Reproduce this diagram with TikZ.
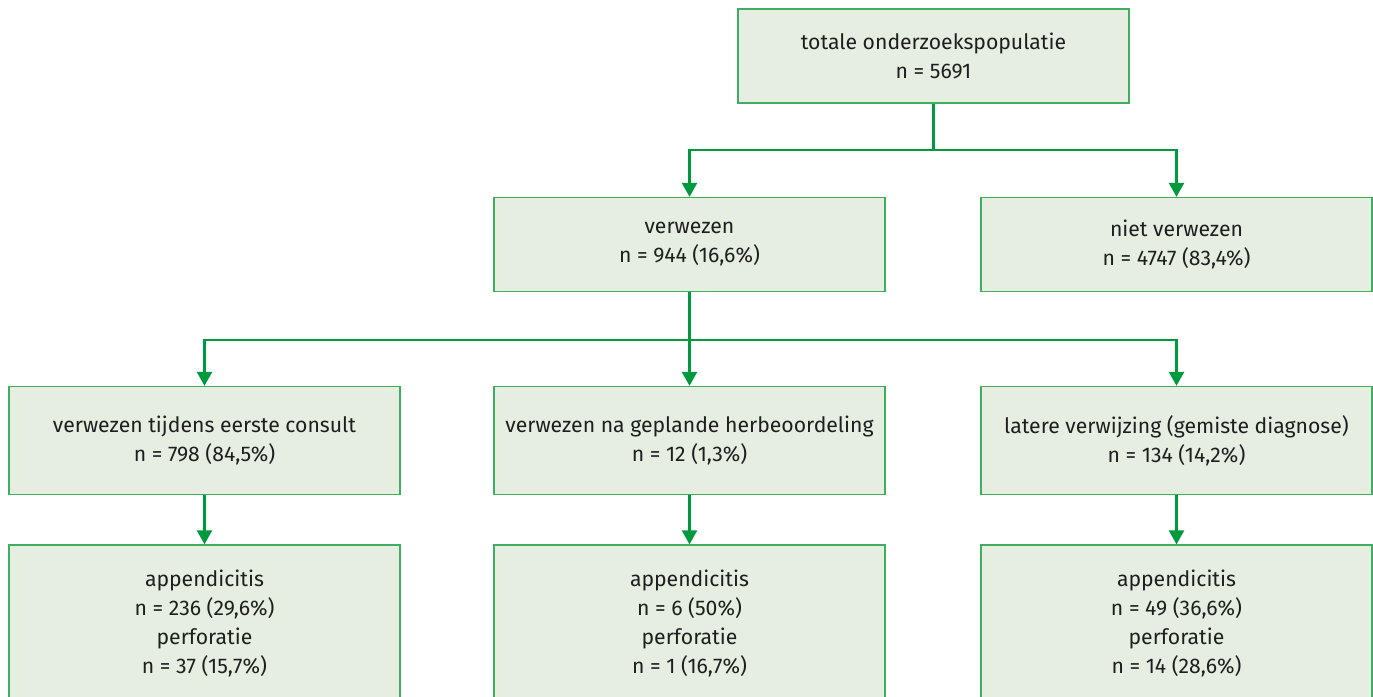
\documentclass[tikz,border=0pt]{standalone}
\usepackage{fontspec}
\setmainfont{Fira Sans}
\usetikzlibrary{arrows.meta}
\definecolor{linec}{RGB}{0,154,62}
\definecolor{boxc}{RGB}{64,174,96}
\definecolor{fillc}{RGB}{230,238,226}
\definecolor{textc}{RGB}{30,30,30}
\tikzset{
  box/.style={rectangle,draw=boxc,fill=fillc,line width=1.3pt,minimum width=391pt,minimum height=94pt,
    inner sep=0pt,align=center,text=textc,font=\fontsize{21.2}{29}\selectfont},
  tall/.style={box,minimum height=108pt},
  big/.style={box,minimum height=156pt},
  conn/.style={linec,line width=2.4pt},
  arr/.style={conn,-{Triangle[length=14pt,width=15pt]}},
}
\begin{document}
\begin{tikzpicture}[x=1pt,y=-1pt]
  \useasboundingbox (0,0) rectangle (1373,696);
  % boxes
  \node[box] (tot) at (933.5,56) {totale onderzoekspopulatie\\n = 5691};
  \node[box] (ver) at (689.5,244.5) {verwezen\\n = 944 (16,6\%)};
  \node[box] (niet) at (1176.5,244.5) {niet verwezen\\n = 4747 (83,4\%)};
  \node[tall] (eerst) at (204.5,440.5) {verwezen tijdens eerste consult\\n = 798 (84,5\%)};
  \node[tall] (gepl) at (689.5,440.5) {verwezen na geplande herbeoordeling\\n = 12 (1,3\%)};
  \node[tall] (later) at (1176.5,440.5) {latere verwijzing (gemiste diagnose)\\n = 134 (14,2\%)};
  \node[big] (app1) at (204.5,623) {appendicitis\\n = 236 (29,6\%)\\perforatie\\n = 37 (15,7\%)};
  \node[big] (app2) at (689.5,623) {appendicitis\\n = 6 (50\%)\\perforatie\\n = 1 (16,7\%)};
  \node[big] (app3) at (1176.5,623) {appendicitis\\n = 49 (36,6\%)\\perforatie\\n = 14 (28,6\%)};
  % connectors
  \coordinate (j1) at (933.5,150);
  \coordinate (j2) at (689.5,340);
  \draw[conn] (tot.south) -- (j1);
  \draw[arr] (j1) -| (ver.north);
  \draw[arr] (j1) -| (niet.north);
  \draw[conn] (ver.south) -- (j2);
  \draw[arr] (j2) -| (eerst.north);
  \draw[arr] (j2) -- (gepl.north);
  \draw[arr] (j2) -| (later.north);
  \draw[arr] (eerst.south) -- (app1.north);
  \draw[arr] (gepl.south) -- (app2.north);
  \draw[arr] (later.south) -- (app3.north);
\end{tikzpicture}
\end{document}
